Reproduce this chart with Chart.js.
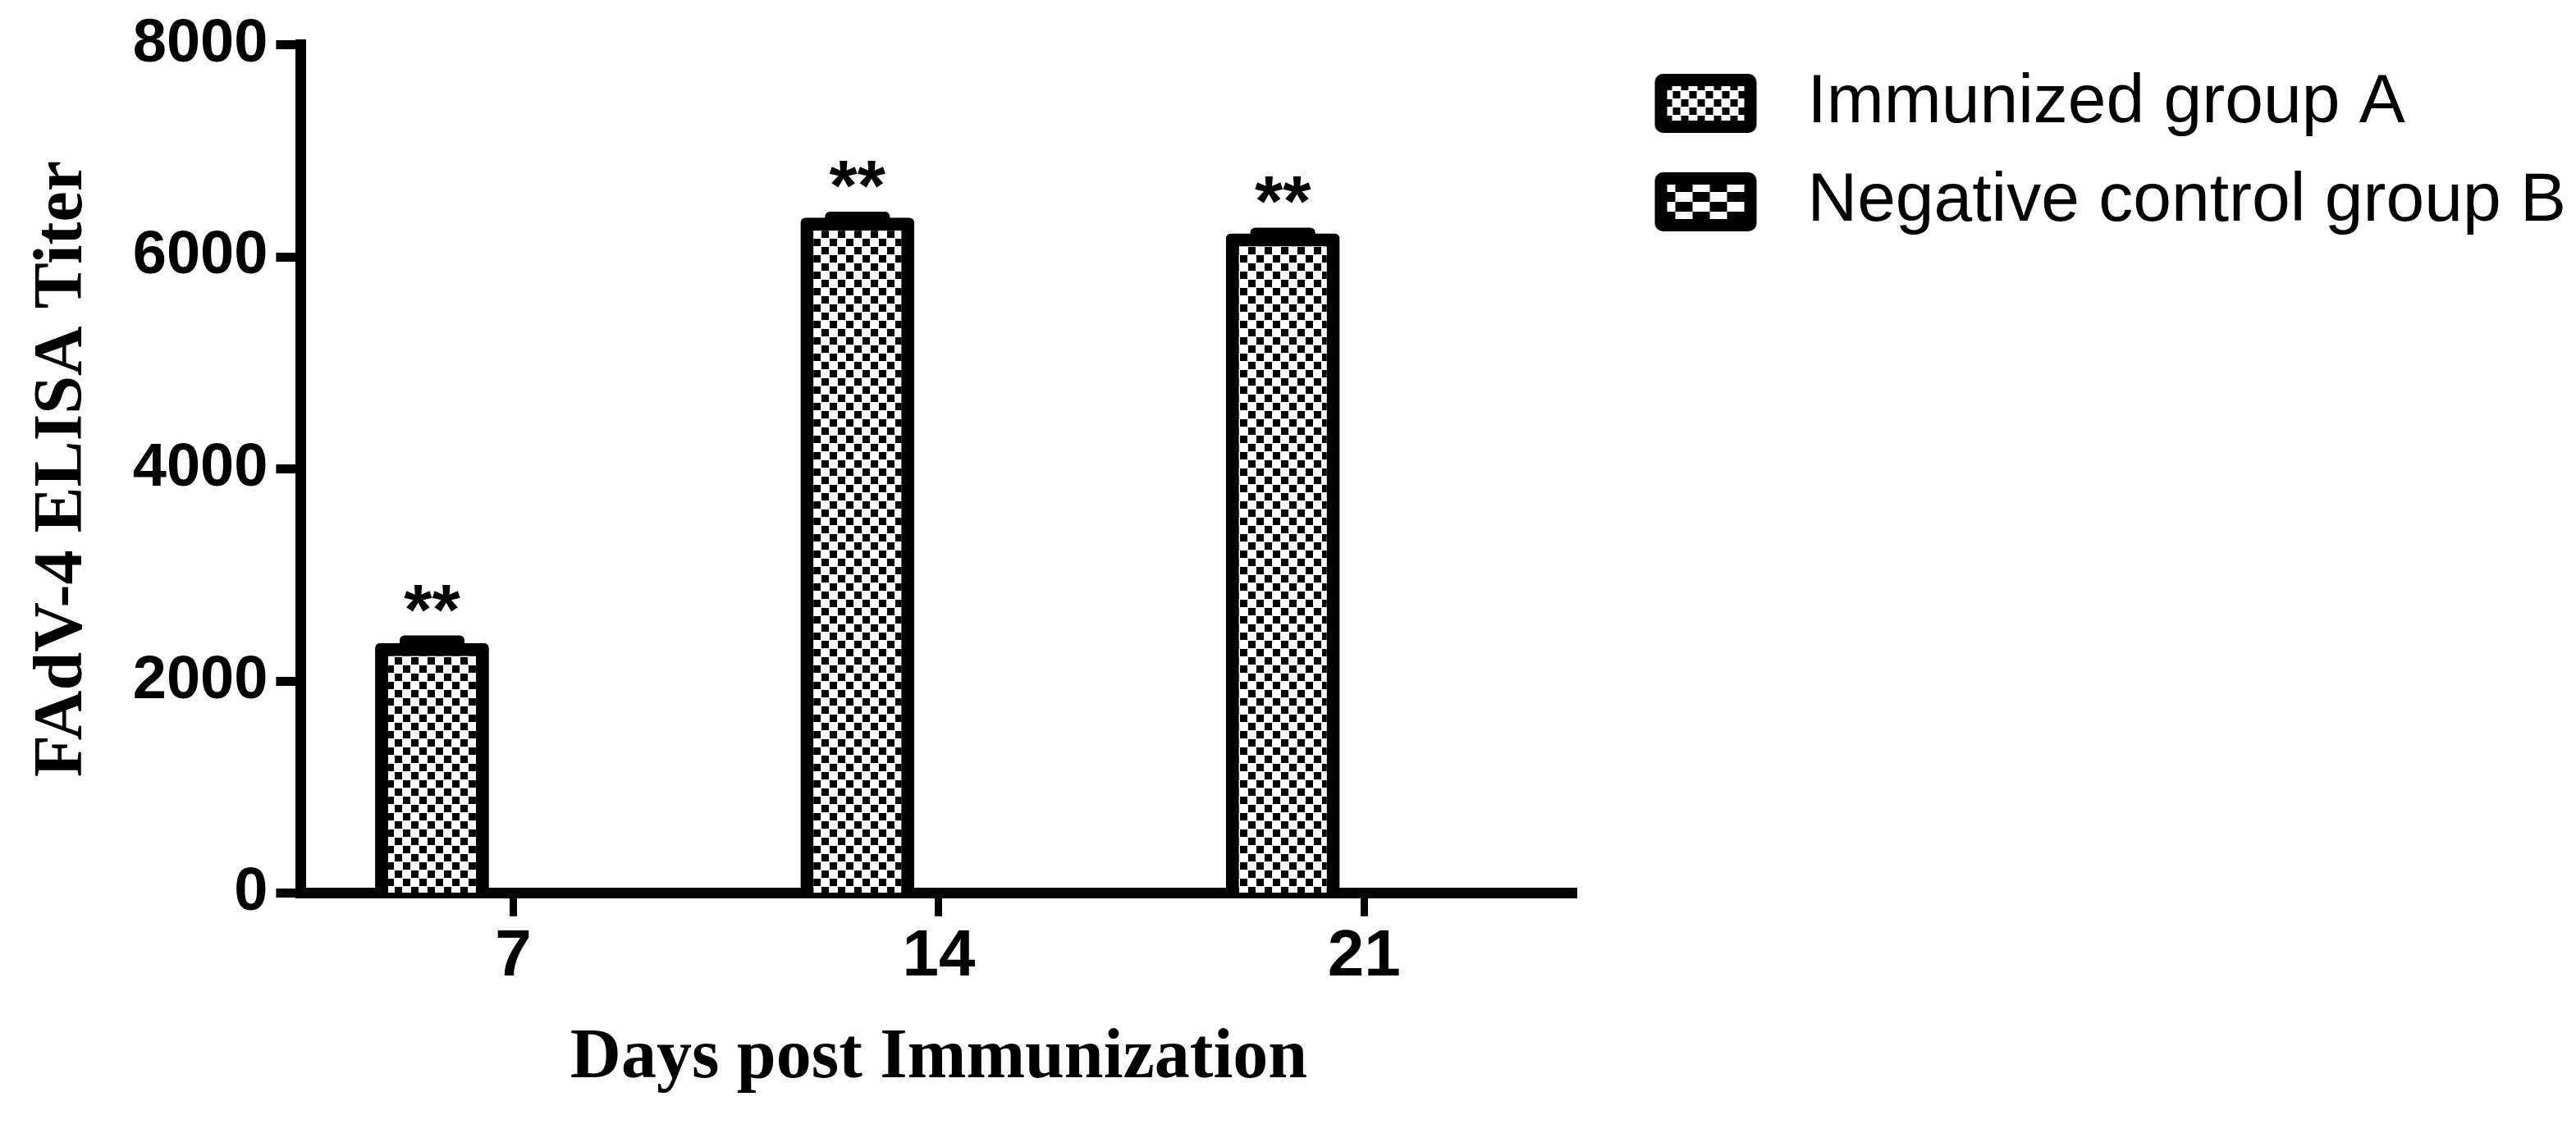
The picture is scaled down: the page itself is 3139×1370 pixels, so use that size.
<!DOCTYPE html>
<html>
<head>
<meta charset="utf-8">
<script src="https://cdn.jsdelivr.net/npm/chart.js@4.4.1/dist/chart.umd.min.js"></script>
<style>
  html, body { margin: 0; padding: 0; background: #fff; }
  #wrap { width: 3139px; height: 1370px; }
</style>
</head>
<body>
<div id="wrap"><canvas id="titerChart"></canvas></div>
<script>
// data
var days = ['7', '14', '21'];
var groupA = [2360, 6370, 6220];
var groupB = [0, 0, 0];
var groupA_err = [70, 55, 55];
var groupB_err = [0, 0, 0];
var groupA_sig = ['**', '**', '**'];
var yTicks = [0, 2000, 4000, 6000, 8000];
var seriesNames = ['Immunized group A', 'Negative control group B'];

var canvas = document.getElementById('titerChart');
var ctx = canvas.getContext('2d');

// small checker tile, black dots on white
function fineTile() {
    var t = document.createElement('canvas');
    t.width = 20; t.height = 20;
    var g = t.getContext('2d');
    g.fillStyle = '#fff';
    g.fillRect(0, 0, 20, 20);
    g.fillStyle = '#000';
    g.fillRect(1, 1, 9, 9);
    g.fillRect(11, 11, 9, 9);
    return t;
}

// coarse checker tile, for group B
function coarseTile() {
    var t = document.createElement('canvas');
    t.width = 42; t.height = 24;
    var g = t.getContext('2d');
    g.fillStyle = '#000';
    g.fillRect(0, 0, 42, 24);
    g.fillStyle = '#fff';
    g.fillRect(0, 0, 21, 12);
    g.fillRect(21, 12, 21, 12);
    return t;
}

/**
 * legend swatch: black rounded box with the fill pattern inside
 * @param tile the pattern tile
 */
function legendSwatch(tile) {
    var c = document.createElement('canvas');
    c.width = 203; c.height = 72;
    var g = c.getContext('2d');
    g.fillStyle = '#000';
    g.beginPath();
    g.roundRect(59, 0, 124, 72, 10);
    g.fill();
    g.fillStyle = g.createPattern(tile, 'repeat');
    g.fillRect(74, 15, 94, 42);
    return c;
}

var tiles = [fineTile(), coarseTile()];
var swatches = [legendSwatch(tiles[0]), legendSwatch(tiles[1])];
var errors = [groupA_err, groupB_err];
var sigMarks = [groupA_sig, null];

// error caps and the ** marks
var errorStars = {
    id: 'errorStars',
    afterDatasetsDraw: function(chart) {
        var c = chart.ctx;
        var yScale = chart.scales.y;
        c.save();
        chart.data.datasets.forEach(function(ds, d) {
            var meta = chart.getDatasetMeta(d);
            meta.data.forEach(function(bar, i) {
                var err = errors[d][i];
                if (!err) return;
                var top = yScale.getPixelForValue(ds.data[i] + err);
                var w = bar.width * 0.57;
                c.fillStyle = '#000';
                c.beginPath();
                c.roundRect(bar.x - w / 2, top, w, bar.y - top + 14, 6);
                c.fill();
                if (sigMarks[d]) {
                    c.font = 'bold 88px "Liberation Sans", Arial, sans-serif';
                    c.textAlign = 'center';
                    c.textBaseline = 'alphabetic';
                    c.fillText(sigMarks[d][i], bar.x, top - 2);
                }
            });
        });
        c.restore();
    }
};

var sansBold = function(size) {
    return {family: '"Liberation Sans", Arial, sans-serif', size: size, weight: 'bold'};
};
var serifBold = function(size) {
    return {family: '"Liberation Serif", "Times New Roman", serif', size: size, weight: 'bold'};
};

new Chart(canvas, {
    type: 'bar',
    data: {
        labels: days,
        datasets: [{
            label: seriesNames[0],
            data: groupA,
            backgroundColor: ctx.createPattern(tiles[0], 'repeat'),
            borderColor: '#000',
            borderWidth: 16,
            borderRadius: 6,
            borderSkipped: 'start'
        }, {
            label: seriesNames[1],
            data: groupB,
            backgroundColor: ctx.createPattern(tiles[1], 'repeat'),
            borderColor: '#000',
            borderWidth: 16,
            borderRadius: 6,
            borderSkipped: 'start'
        }]
    },
    options: {
        responsive: true,
        maintainAspectRatio: false,
        animation: false,
        devicePixelRatio: 1,
        categoryPercentage: 0.765,
        barPercentage: 0.70,
        layout: {padding: {top: 14, left: 25, right: 2, bottom: 24}},
        plugins: {
            tooltip: {enabled: false},
            legend: {
                position: 'right',
                align: 'start',
                maxWidth: 1300,
                title: {display: true, text: '', padding: {top: 0, bottom: 10}, font: {size: 20}},
                labels: {
                    usePointStyle: true,
                    pointStyleWidth: 203,
                    padding: 36,
                    color: '#000',
                    font: {family: '"Liberation Sans", Arial, sans-serif', size: 84},
                    generateLabels: function(chart) {
                        return chart.data.datasets.map(function(ds, i) {
                            return {
                                text: ds.label,
                                pointStyle: swatches[i],
                                datasetIndex: i,
                                hidden: false,
                                lineWidth: 0,
                                fillStyle: '#000',
                                strokeStyle: '#000',
                                fontColor: '#000'
                            };
                        });
                    }
                }
            }
        },
        scales: {
            x: {
                grid: {drawOnChartArea: false, offset: false, tickLength: 28, tickWidth: 9, tickColor: '#000'},
                border: {display: true, width: 13, color: '#000'},
                ticks: {color: '#000', padding: 2, font: sansBold(80)},
                title: {
                    display: true,
                    text: 'Days post Immunization',
                    color: '#000',
                    font: serifBold(86),
                    padding: {top: 22, bottom: 4}
                }
            },
            y: {
                min: 0,
                max: 8000,
                afterBuildTicks: function(scale) {
                    scale.ticks = yTicks.map(function(v) { return {value: v}; });
                },
                grid: {drawOnChartArea: false, tickLength: 30, tickWidth: 11, tickColor: '#000'},
                border: {display: true, width: 13, color: '#000'},
                ticks: {
                    color: '#000',
                    padding: 10,
                    font: sansBold(74),
                    callback: function(v) { return String(v); }
                },
                title: {
                    display: true,
                    text: 'FAdV-4 ELISA Titer',
                    color: '#000',
                    font: serifBold(84),
                    padding: {top: 2, bottom: 24}
                }
            }
        }
    },
    plugins: [errorStars]
});
</script>
</body>
</html>
